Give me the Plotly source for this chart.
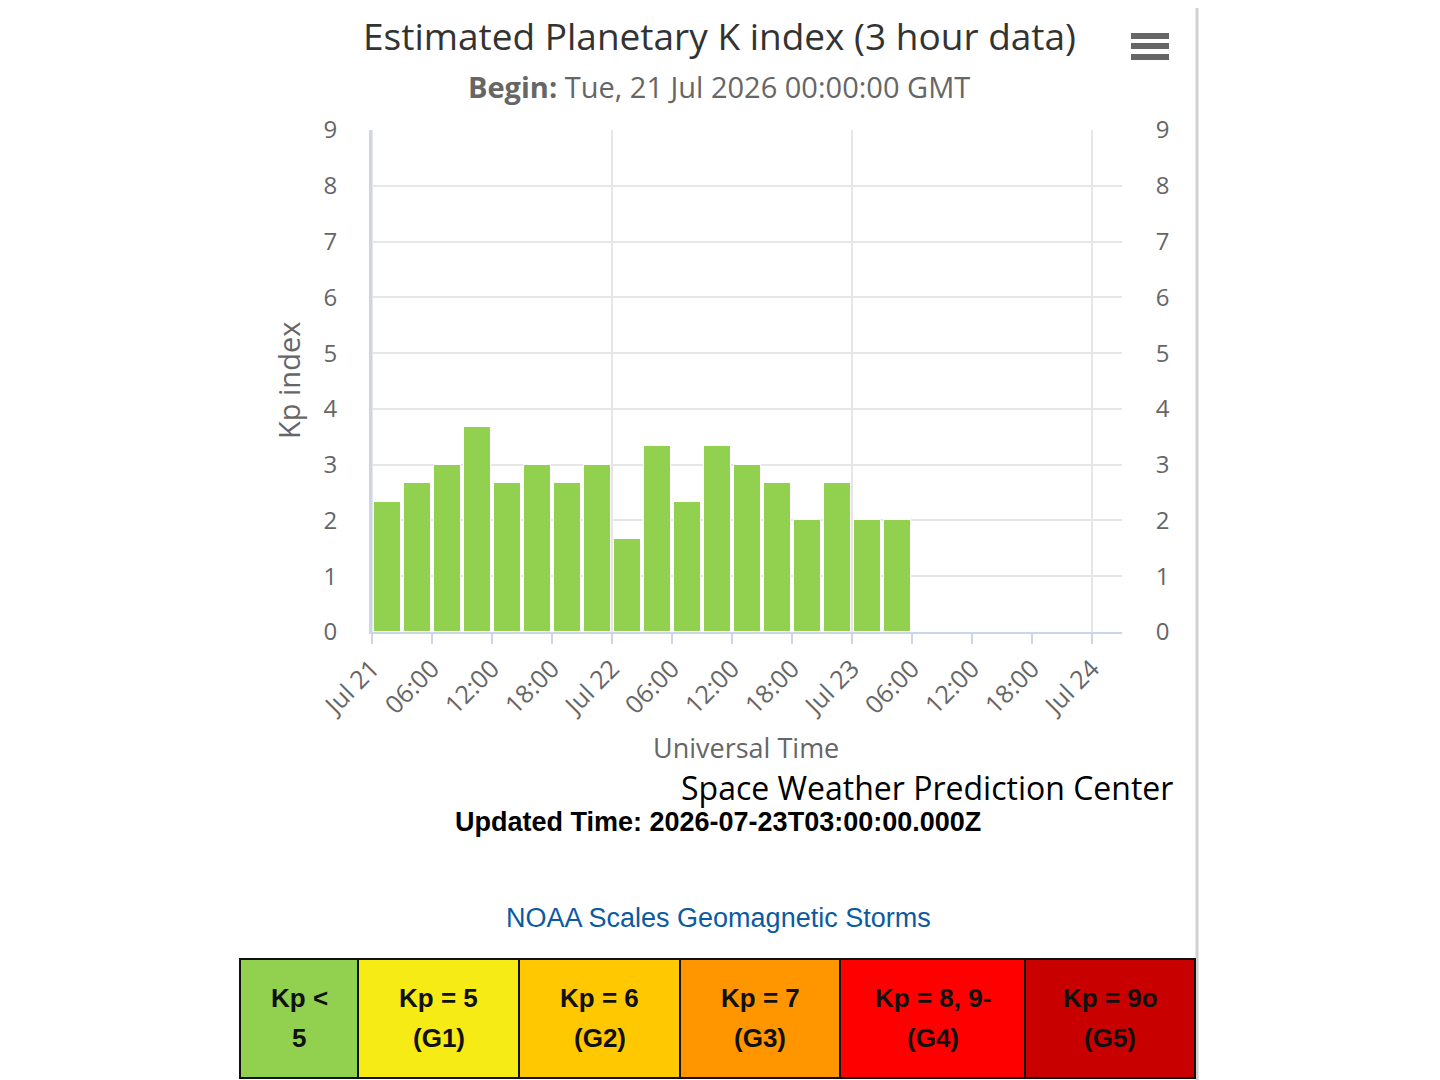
"""Estimated Planetary K index chart, NOAA SWPC style."""

import plotly.graph_objects as go

# ---- data -----------------------------------------------------------------
period_start = [
    "2026-07-21 00:00", "2026-07-21 03:00", "2026-07-21 06:00", "2026-07-21 09:00",
    "2026-07-21 12:00", "2026-07-21 15:00", "2026-07-21 18:00", "2026-07-21 21:00",
    "2026-07-22 00:00", "2026-07-22 03:00", "2026-07-22 06:00", "2026-07-22 09:00",
    "2026-07-22 12:00", "2026-07-22 15:00", "2026-07-22 18:00", "2026-07-22 21:00",
    "2026-07-23 00:00", "2026-07-23 03:00",
]
kp_values = [
    2.33, 2.67, 3.00, 3.67, 2.67, 3.00, 2.67, 3.00, 1.67,
    3.33, 2.33, 3.33, 3.00, 2.67, 2.00, 2.67, 2.00, 2.00,
]

tick_times = [
    "2026-07-21 00:00", "2026-07-21 06:00", "2026-07-21 12:00", "2026-07-21 18:00",
    "2026-07-22 00:00", "2026-07-22 06:00", "2026-07-22 12:00", "2026-07-22 18:00",
    "2026-07-23 00:00", "2026-07-23 06:00", "2026-07-23 12:00", "2026-07-23 18:00",
    "2026-07-24 00:00",
]
tick_labels = [
    "Jul 21", "06:00", "12:00", "18:00",
    "Jul 22", "06:00", "12:00", "18:00",
    "Jul 23", "06:00", "12:00", "18:00",
    "Jul 24",
]
day_lines = ["2026-07-21", "2026-07-22", "2026-07-23", "2026-07-24"]
x_range = ["2026-07-21 00:00", "2026-07-24 03:00"]

scale_top = ["Kp <", "Kp = 5", "Kp = 6", "Kp = 7", "Kp = 8, 9-", "Kp = 9o"]
scale_bottom = ["5", "(G1)", "(G2)", "(G3)", "(G4)", "(G5)"]
scale_colors = ["#92d050", "#f6eb14", "#ffc800", "#ff9600", "#ff0000", "#c80000"]

# ---- layout helpers -------------------------------------------------------
# plot area in screen pixels; the page puts the figure 8px in from the corner
PLOT_L, PLOT_R, PLOT_T, PLOT_B = 372, 1122, 130, 632
PAGE_OFF = 8
HOUR_MS = 3600 * 1000
FONT = "Open Sans"
ARIAL = "Liberation Sans"


def px(x):
    return (x - PLOT_L) / (PLOT_R - PLOT_L)


def py(y):
    return (PLOT_B - y) / (PLOT_B - PLOT_T)


fig = go.Figure()

fig.add_trace(
    go.Bar(
        x=period_start,
        y=kp_values,
        width=2.7 * HOUR_MS,
        offset=0.15 * HOUR_MS,
        marker=dict(color="#92d050", line=dict(color="#ffffff", width=1)),
        name="Kp",
        hovertemplate="%{x}<br>Kp: %{y}<extra></extra>",
    )
)
# invisible copy so the right-hand axis is drawn
fig.add_trace(
    go.Scatter(
        x=period_start,
        y=kp_values,
        yaxis="y2",
        mode="markers",
        marker=dict(opacity=0),
        hoverinfo="skip",
        showlegend=False,
    )
)

shapes = []
# vertical day grid lines
for d in day_lines:
    shapes.append(dict(
        type="line", xref="x", yref="paper", x0=d, x1=d, y0=0, y1=1,
        line=dict(color="#e6e6e6", width=2), layer="below",
    ))
# right-hand border of the chart container
shapes.append(dict(
    type="line", xref="paper", yref="paper", x0=px(1197), x1=px(1197),
    y0=py(-10), y1=py(1090), line=dict(color="#d0d0d0", width=3),
))
# hamburger menu icon
for yc in (36, 46, 57):
    shapes.append(dict(
        type="rect", xref="paper", yref="paper",
        x0=px(1131), x1=px(1169), y0=py(yc + 3), y1=py(yc - 3),
        fillcolor="#666666", line=dict(width=0),
    ))

annotations = [
    dict(text="Estimated Planetary K index (3 hour data)", x=px(719), y=py(36),
         font=dict(family=FONT, size=37, color="#333333")),
    dict(text="<b>Begin:</b> Tue, 21 Jul 2026 00:00:00 GMT", x=px(719), y=py(86),
         font=dict(family=FONT, size=29, color="#666666")),
    dict(text="Kp index", x=px(288), y=py(381), textangle=-90,
         font=dict(family=FONT, size=29, color="#666666")),
    dict(text="Universal Time", x=px(746), y=py(747),
         font=dict(family=FONT, size=27, color="#666666")),
    dict(text="Space Weather Prediction Center", x=px(1175), y=py(787), xanchor="right",
         font=dict(family=FONT, size=32, color="#000000")),
    dict(text="<b>Updated Time: 2026-07-23T03:00:00.000Z</b>", x=px(718), y=py(822),
         font=dict(family=ARIAL, size=27, color="#000000")),
    dict(text="NOAA Scales Geomagnetic Storms", x=px(718), y=py(918),
         font=dict(family=ARIAL, size=27, color="#0b5aa2")),
]

# NOAA scale table
cell_edges = [240, 358, 519, 680, 840, 1025, 1195]
for i, color in enumerate(scale_colors):
    x0, x1 = cell_edges[i], cell_edges[i + 1]
    shapes.append(dict(
        type="rect", xref="paper", yref="paper",
        x0=px(x0), x1=px(x1), y0=py(1078), y1=py(959),
        fillcolor=color, line=dict(color="#111111", width=2),
    ))
    xc = px((x0 + x1) / 2)
    annotations.append(dict(text=f"<b>{scale_top[i]}</b>", x=xc, y=py(998),
                            font=dict(family=ARIAL, size=26, color="#111111")))
    annotations.append(dict(text=f"<b>{scale_bottom[i]}</b>", x=xc, y=py(1038),
                            font=dict(family=ARIAL, size=26, color="#111111")))

for a in annotations:
    a.update(xref="paper", yref="paper", showarrow=False, yanchor="middle")
    a.setdefault("xanchor", "center")

fig.update_layout(
    width=1440,
    height=1080,
    margin=dict(
        l=PLOT_L - PAGE_OFF,
        r=1440 - (PLOT_R - PAGE_OFF),
        t=PLOT_T - PAGE_OFF,
        b=1080 - (PLOT_B - PAGE_OFF),
        pad=0,
    ),
    paper_bgcolor="#ffffff",
    plot_bgcolor="#ffffff",
    showlegend=False,
    bargap=0,
    shapes=shapes,
    annotations=annotations,
    xaxis=dict(
        type="date",
        range=x_range,
        tickvals=tick_times,
        ticktext=tick_labels,
        tickangle=-45,
        tickfont=dict(family=FONT, size=25, color="#666666"),
        showgrid=False,
        zeroline=False,
        showline=True,
        linecolor="#ccd6eb",
        linewidth=2,
        ticks="outside",
        ticklen=10,
        tickcolor="#ccd6eb",
        tickwidth=2,
    ),
    yaxis=dict(
        range=[0, 9],
        dtick=1,
        tickfont=dict(family=FONT, size=24, color="#666666"),
        gridcolor="#e6e6e6",
        gridwidth=2,
        zeroline=False,
        showline=True,
        linecolor="#ccd6eb",
        linewidth=3,
        ticks="outside",
        ticklen=27,
        tickcolor="rgba(0,0,0,0)",
    ),
    yaxis2=dict(
        range=[0, 9],
        dtick=1,
        overlaying="y",
        side="right",
        tickfont=dict(family=FONT, size=24, color="#666666"),
        showgrid=False,
        zeroline=False,
        showline=False,
        ticks="outside",
        ticklen=28,
        tickcolor="rgba(0,0,0,0)",
    ),
)

fig.write_html("out.html")
